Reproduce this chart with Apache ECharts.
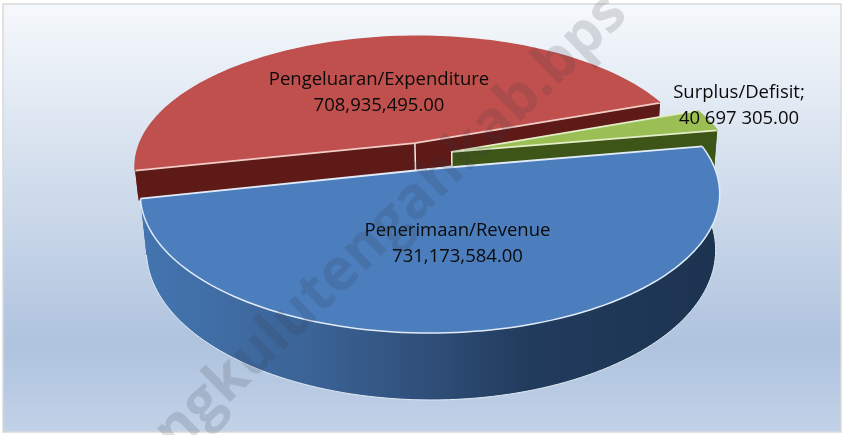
<!DOCTYPE html>
<html>
<head>
<meta charset="utf-8">
<style>html,body{margin:0;padding:0;background:#fff}#c{width:842px;height:435px}</style>
<script src="https://cdn.jsdelivr.net/npm/echarts@6/dist/echarts.min.js"></script>
</head>
<body>
<div id="c"></div>
<script>
var categories = ['Penerimaan/Revenue', 'Pengeluaran/Expenditure', 'Surplus/Defisit;'];
var values = [731173584, 708935495, 40697305];
var valueLabels = ['731,173,584.00', '708,935,495.00', '40 697 305.00'];

var FONT = '18.5px "Open Sans", sans-serif';
var startDeg = -10;
var total = values.reduce(function (a, b) { return a + b; }, 0);

// perspective projection of the unit disc: top face and bottom face
var topPlane = { cx: 430, cy: 169, k: 285, m: 134.5, p: 0.18 };
var botPlane = { cx: 431, cy: 223, k: 280, m: 145.1, p: 0.18 };
function proj(pl, X, Y) {
  var d = 1 - pl.p * Y;
  return [pl.cx + pl.k * X / d, pl.cy + pl.m * Y / d];
}
var looks = [
  { off: [0, 0], top: '#4c7ebd', cut: '#2f5078', edge: '#e2ecf8', z: 30, wall: 1, label: [457.5, 244] },
  { off: [-0.055, -0.2], top: '#c0504d', cut: '#5e1a17', edge: '#f2cdc8', z: 10, wall: 0.55, label: [379, 93] },
  { off: [0.078, -0.13], top: '#9bbf55', cut: '#3e5518', edge: '#e3edc8', z: 20, wall: 1, label: [739, 106] }
];
var blueWall = new echarts.graphic.LinearGradient(0, 0, 1, 0, [
  { offset: 0, color: '#4475b0' },
  { offset: 0.3, color: '#3b6396' },
  { offset: 0.5, color: '#2f4e78' },
  { offset: 0.66, color: '#223c5e' },
  { offset: 1, color: '#1c3350' }
]);

function arc(pl, off, a0, a1) {
  var pts = [], n = Math.max(2, Math.ceil((a1 - a0) / 1.5));
  for (var i = 0; i <= n; i++) {
    var a = (a0 + (a1 - a0) * i / n) * Math.PI / 180;
    pts.push(proj(pl, off[0] + Math.cos(a), off[1] + Math.sin(a)));
  }
  return pts;
}
function toward(top, bot, f) {
  return [top[0] + (bot[0] - top[0]) * f, top[1] + (bot[1] - top[1]) * f];
}
function poly(points, fill, z2) {
  return {
    type: 'polygon', z2: z2, silent: true,
    shape: { points: points },
    style: { fill: fill, stroke: null, lineWidth: 0 }
  };
}
function line(points, stroke, z2, lw) {
  return {
    type: 'polyline', z2: z2, silent: true,
    shape: { points: points },
    style: { fill: null, stroke: stroke, lineWidth: lw, lineJoin: 'round' }
  };
}
function renderItem(params, api) {
  var idx = params.dataIndex;
  var before = 0;
  for (var i = 0; i < idx; i++) before += values[i];
  var a0 = startDeg + before / total * 360;
  var a1 = a0 + api.value(0) / total * 360;
  var L = looks[idx], z = L.z;
  var tArc = arc(topPlane, L.off, a0, a1);
  var bArc = arc(botPlane, L.off, a0, a1).map(function (p, j) { return toward(tArc[j], p, L.wall); });
  var tApex = proj(topPlane, L.off[0], L.off[1]);
  var bApex = toward(tApex, proj(botPlane, L.off[0], L.off[1]), L.wall);
  var kids = [];
  // cut faces
  kids.push(poly([tApex, tArc[0], bArc[0], bApex], L.cut, z));
  kids.push(poly([tApex, tArc[tArc.length - 1], bArc[bArc.length - 1], bApex], L.cut, z));
  // outer wall
  kids.push(poly(tArc.concat(bArc.slice().reverse()), idx === 0 ? blueWall : L.cut, z + 1));
  if (idx === 0) kids.push(line(bArc, '#dfe9f4', z + 1, 1));
  // apex seam
  if (idx !== 0) kids.push(line([tApex, bApex], '#f4eee6', z + 2, 1.5));
  // top face
  kids.push(poly([tApex].concat(tArc), L.top, z + 3));
  kids.push(line([tArc[tArc.length - 1], tApex, tArc[0]], L.edge, z + 4, 1.8));
  kids.push(line(tArc, idx === 0 ? L.edge : L.top, z + 4, 1.5));
  // label
  kids.push({
    type: 'text', z2: 60, silent: true,
    style: {
      x: L.label[0], y: L.label[1], text: categories[idx] + '\n' + valueLabels[idx],
      align: 'center', verticalAlign: 'middle', font: FONT, lineHeight: 26, fill: '#0a0a0a'
    }
  });
  return { type: 'group', children: kids };
}

var chart = echarts.init(document.getElementById('c'), null, { renderer: 'canvas' });
chart.setOption({
  animation: false,
  backgroundColor: '#ffffff',
  graphic: [
    {
      type: 'rect', z: -1, silent: true,
      shape: { x: 3, y: 4, width: 838, height: 428 },
      style: {
        fill: new echarts.graphic.LinearGradient(0, 0, 0, 1, [
          { offset: 0, color: '#f6f9fc' },
          { offset: 0.8, color: '#afc3de' },
          { offset: 1, color: '#c2d2e8' }
        ]),
        stroke: '#d9d9d9', lineWidth: 1.5
      }
    },
    {
      type: 'text', z: 50, silent: true, x: 93, y: 471, rotation: 44 * Math.PI / 180,
      style: {
        text: 'bengkulutengahkab.bps', align: 'left', verticalAlign: 'alphabetic',
        font: 'bold 58px "Open Sans", sans-serif', fill: 'rgba(50,55,70,0.16)'
      }
    }
  ],
  series: [{
    type: 'custom',
    coordinateSystem: 'none',
    z: 5,
    data: values.map(function (v, i) { return { name: categories[i], value: [v] }; }),
    renderItem: renderItem
  }]
});
</script>
</body>
</html>
